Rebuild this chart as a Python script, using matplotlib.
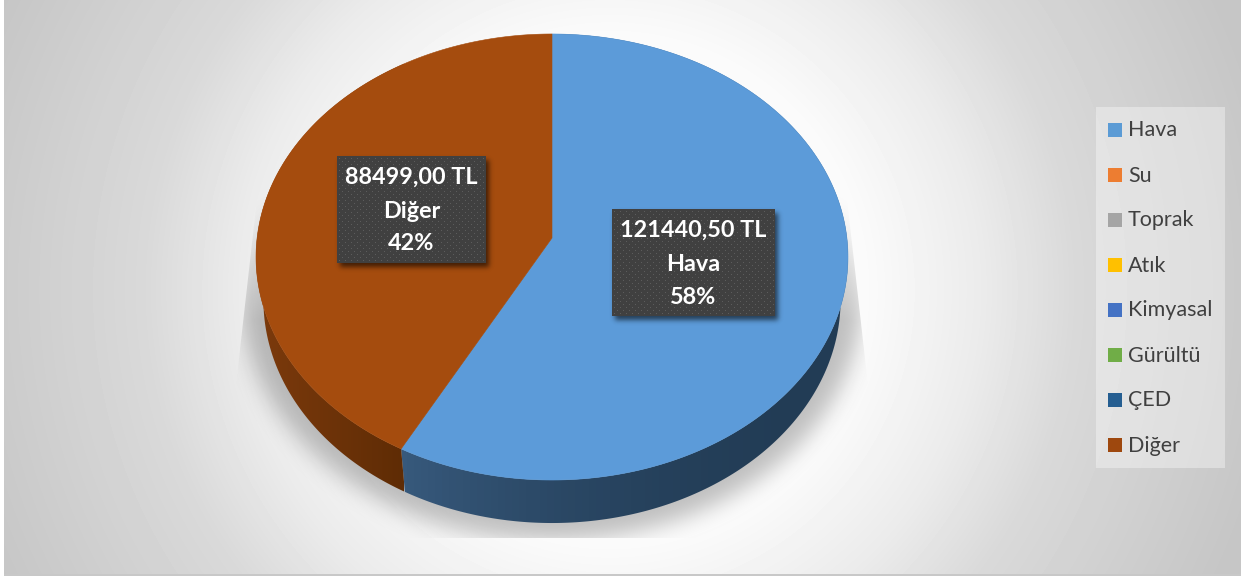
import numpy as np
import matplotlib
matplotlib.use("Agg")
import matplotlib.pyplot as plt
from matplotlib.patches import Polygon, Rectangle
from matplotlib.colors import to_rgb

# datos del grafico
categories = ["Hava", "Su", "Toprak", "Atık", "Kimyasal", "Gürültü", "ÇED", "Diğer"]
amounts = [121440.50, 0, 0, 0, 0, 0, 0, 88499.00]

colors = ["#5B9BD5", "#ED7D31", "#A5A5A5", "#FFC000", "#4472C4", "#70AD47", "#255E91", "#9E480E"]
top_colors = {"Hava": "#5C9BD9", "Diğer": "#A54C0E"}
wall_colors = {"Hava": ("#37597C", "#223C55"), "Diğer": ("#7C3A0C", "#5F2C05")}
label_boxes = {"Hava": (612, 209, 775, 316), "Diğer": (337, 156, 486, 263)}

W, H = 1246, 579
plt.rcParams["font.family"] = ["Lato", "DejaVu Sans"]

fig = plt.figure(figsize=(W / 100, H / 100), dpi=100, facecolor="white")
ax = fig.add_axes([0, 0, 1, 1])
ax.axis("off")


def blur(img, sigma):
    # gaussian blur done in the frequency domain
    fy = np.fft.fftfreq(img.shape[0])[:, None]
    fx = np.fft.rfftfreq(img.shape[1])[None, :]
    kernel = np.exp(-2 * (np.pi * sigma) ** 2 * (fx ** 2 + fy ** 2))
    return np.fft.irfft2(np.fft.rfft2(img) * kernel, s=img.shape)


def project(theta, scale=1.0, drop=0.0):
    # disc point to screen, clockwise from the top, near side larger
    c = -0.0852
    u, v = np.sin(theta), -np.cos(theta)
    d = 1 + c * v
    return 552 + scale * 294.9 * u / d, 238 + 221.4 * v / d + drop


def arc(t0, t1, scale=1.0, drop=0.0):
    t = np.linspace(t0, t1, 300)
    x, y = project(t, scale, drop)
    return np.column_stack([x, y])


# background
yy, xx = np.mgrid[0:H, 0:W] + 0.5
r = np.hypot(xx - 610, yy - 290) / 620
grey = np.interp(r, [0, 0.42, 0.6, 0.75, 1.08], [255, 250, 235, 217, 198]) / 255
ax.imshow(grey[:574, 4:1241], cmap="gray", vmin=0, vmax=1, extent=(4, 1241, 574, 0),
          aspect="auto", zorder=0)
ax.add_patch(Rectangle((4, 574), 1237, 2, fc="#C8C8C8", ec="none", zorder=1))

# pie shadow on the floor, fading out towards the back of the pie
mask = (((xx - 552) / 310) ** 2 + ((yy - 298) / 242) ** 2 < 1).astype(float)
shadow = np.zeros((H, W, 4))
shadow[..., 3] = blur(mask, 11) * 0.24 * np.clip((yy - 190) / 130, 0, 1)
shadow_im = ax.imshow(shadow, extent=(0, W, H, 0), aspect="auto", zorder=2)
shadow_im.set_clip_path(Polygon([(258, 190), (846, 190), (868, 385), (868, 538),
                                 (236, 538), (236, 385)], transform=ax.transData))

# side walls first, then the top faces over them
total = sum(amounts)
start = 0.0
for name, value in zip(categories, amounts):
    if value == 0:
        continue
    end = start + 2 * np.pi * value / total
    top = arc(start, end)
    bottom = arc(start, end, 0.975, 43)
    wall = Polygon(np.vstack([top, bottom[::-1]]), transform=ax.transData)

    c0, c1 = [np.array(to_rgb(c)) for c in wall_colors[name]]
    if name == "Diğer":
        grad = np.linspace(0, 1, 64)[:, None] * (c1 - c0) + c0
        extent = (256, 404, 579, 0)
    else:
        grad = np.linspace(1, 0, 64)[:, None] ** 2 * (c0 - c1) + c1
        extent = (400, 848, 579, 0)
    im = ax.imshow(grad[None, :, :], extent=extent, aspect="auto", zorder=3)
    im.set_clip_path(wall)
    start = end

start = 0.0
for name, value in zip(categories, amounts):
    if value == 0:
        continue
    end = start + 2 * np.pi * value / total
    face = np.vstack([[project(0)[0], 238], arc(start, end)])
    ax.add_patch(Polygon(face, closed=True, fc=top_colors[name], ec=top_colors[name],
                         lw=0.4, zorder=4))
    start = end

# data labels
box_shadow = np.zeros((H, W))
for x0, y0, x1, y1 in label_boxes.values():
    box_shadow[y0 + 4:y1 + 4, x0 + 3:x1 + 3] = 1
soft = np.zeros((H, W, 4))
soft[..., 3] = blur(box_shadow, 2.5) * 0.6
ax.imshow(soft, extent=(0, W, H, 0), aspect="auto", zorder=5)

for name, value in zip(categories, amounts):
    if value == 0:
        continue
    x0, y0, x1, y1 = label_boxes[name]
    # dotted fill of the label box
    tex = np.full((y1 - y0, x1 - x0), 0.25)
    tex[2::6, 2::6] = 0.36
    tex[5::6, 5::6] = 0.36
    ax.imshow(tex, cmap="gray", vmin=0, vmax=1, extent=(x0, x1, y1, y0), aspect="auto",
              interpolation="bilinear", zorder=6)
    money = f"{value:.2f}".replace(".", ",") + " TL"
    pct = f"{round(100 * value / total)}%"
    cx = (x0 + x1) / 2
    for line, dy in zip([money, name, pct], [21.5, 55.5, 88]):
        ax.text(cx, y0 + dy, line, color="white", fontsize=16.8, fontweight="bold",
                ha="center", va="center", zorder=7)

# legend
ax.add_patch(Rectangle((1096, 107), 129, 361, fc="white", alpha=0.36, ec="none", zorder=2))
for i, (name, col) in enumerate(zip(categories, colors)):
    y = 130 + 45 * i
    ax.add_patch(Rectangle((1108, y - 7), 14, 14, fc=col, ec="none", zorder=3))
    ax.text(1128, y + 0.5, name, color="#404040", fontsize=15.5, va="center", ha="left", zorder=3)

ax.set_xlim(0, W)
ax.set_ylim(H, 0)
fig.savefig("out.png", dpi=100, facecolor="white")
